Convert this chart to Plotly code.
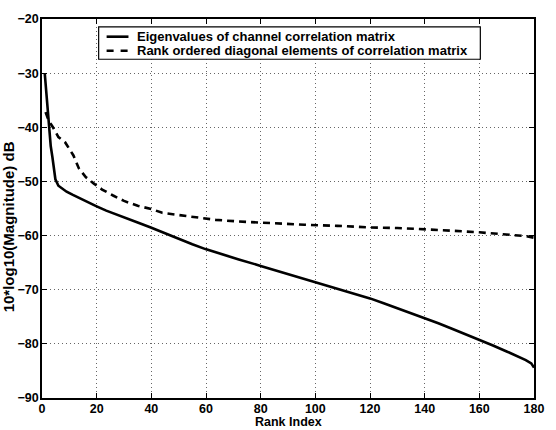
import plotly.graph_objects as go

# --- data ---
eig_rank = [1, 1.8, 2.5, 3.2, 3.8, 4.4, 4.9, 6, 7, 9, 11.3, 14, 17.3, 20, 23.5, 29.5, 35, 39.8,
            45, 50, 55, 59.8, 66, 72, 80, 88, 94, 100, 105, 110, 115, 120, 125, 130, 135,
            140, 145, 150, 155, 160, 165, 170, 174, 177, 179, 180]
eig_db = [-30, -35.5, -40, -43.5, -45.5, -47.8, -49.6, -50.8, -51.2, -51.9, -52.5, -53.2, -53.9,
          -54.6, -55.4, -56.6, -57.6, -58.5, -59.6, -60.6, -61.6, -62.5, -63.5, -64.4, -65.6,
          -66.8, -67.7, -68.6, -69.4, -70.1, -70.8, -71.6, -72.5, -73.4, -74.3, -75.2, -76.2,
          -77.2, -78.2, -79.2, -80.3, -81.4, -82.3, -83.0, -83.6, -84.4]

diag_rank = [1.3, 2.5, 4, 6, 8.5, 10, 11.5, 13.5, 16, 19, 22, 26, 30, 35, 40, 44, 49, 54,
             58.5, 63.5, 72, 82, 96, 108, 120, 130, 140, 150, 160, 170, 177, 180]
diag_db = [-37.2, -38.8, -40, -41.8, -42.8, -44, -45.2, -47.6, -49.2, -50.4, -51.5, -52.6,
           -53.6, -54.5, -55.1, -55.8, -56.1, -56.4, -56.8, -57.1, -57.4, -57.7, -58, -58.2,
           -58.5, -58.6, -58.8, -59.1, -59.4, -59.8, -60.1, -60.4]

series_names = ["Eigenvalues of channel correlation matrix",
                "Rank ordered diagonal elements of correlation matrix"]

x_ticks = [0, 20, 40, 60, 80, 100, 120, 140, 160, 180]
y_ticks = [-20, -30, -40, -50, -60, -70, -80, -90]

FONT = "Liberation Sans, Arial, Helvetica, sans-serif"
DASH = "7px,5px"

fig = go.Figure()
fig.add_trace(go.Scatter(x=eig_rank, y=eig_db, mode="lines", name=series_names[0],
                         line=dict(color="black", width=2.6), showlegend=False))
fig.add_trace(go.Scatter(x=diag_rank, y=diag_db, mode="lines", name=series_names[1],
                         line=dict(color="black", width=2.6, dash=DASH), showlegend=False))

axis_common = dict(
    showline=True, linecolor="black", linewidth=1.5, mirror="ticks",
    ticks="inside", ticklen=5, tickwidth=1, tickcolor="black",
    showgrid=True, gridcolor="#666666", gridwidth=1, griddash="1px,3px",
    zeroline=False,
    tickfont=dict(family=FONT, size=12.5, color="black", weight="bold"),
)

fig.update_xaxes(range=[0, 180], tickvals=x_ticks, ticklabelstandoff=-2, **axis_common)
fig.update_yaxes(range=[-90, -20], tickvals=y_ticks, ticklabelstandoff=-1, **axis_common)

L, R, T, B = 42, 19, 12, 32
W, H = 556, 430
pw, ph = W - L - R, H - T - B


def px(xp):
    return (xp - L) / pw


def py(yp):
    return 1 - (yp - T) / ph


annotations = [
    dict(text="Rank Index", xref="paper", yref="paper", x=0.5, y=py(422.5),
         xanchor="center", yanchor="middle", showarrow=False, borderpad=0,
         font=dict(family=FONT, size=12.5, color="black", weight="bold")),
    dict(text="10*log10(Magnitude) dB", xref="paper", yref="paper", x=px(8), y=py(224),
         xanchor="center", yanchor="middle", showarrow=False, textangle=-90,
         font=dict(family=FONT, size=15, color="black", weight="bold")),
]
# manual legend
leg_rows = [30, 44.3]
for name, yr in zip(series_names, leg_rows):
    annotations.append(dict(text=name, xref="paper", yref="paper", x=px(136), y=py(yr),
                            xanchor="left", yanchor="middle", showarrow=False,
                            font=dict(family=FONT, size=13, color="black", weight="bold")))

shapes = [
    dict(type="rect", xref="paper", yref="paper", x0=px(99), x1=px(483), y0=py(53), y1=py(20),
         line=dict(color="black", width=1.2), fillcolor="white", layer="above"),
    dict(type="line", xref="paper", yref="paper", x0=px(107), x1=px(129), y0=py(leg_rows[0]),
         y1=py(leg_rows[0]), line=dict(color="black", width=2.6)),
    dict(type="line", xref="paper", yref="paper", x0=px(107), x1=px(129), y0=py(leg_rows[1]),
         y1=py(leg_rows[1]), line=dict(color="black", width=2.6, dash="7px,7px")),
]

fig.update_layout(
    width=W, height=H,
    margin=dict(l=L, r=R, t=T, b=B),
    paper_bgcolor="white", plot_bgcolor="white",
    showlegend=False,
    annotations=annotations,
    shapes=shapes,
    font=dict(family=FONT, color="black"),
)

fig.write_html("out.html")
